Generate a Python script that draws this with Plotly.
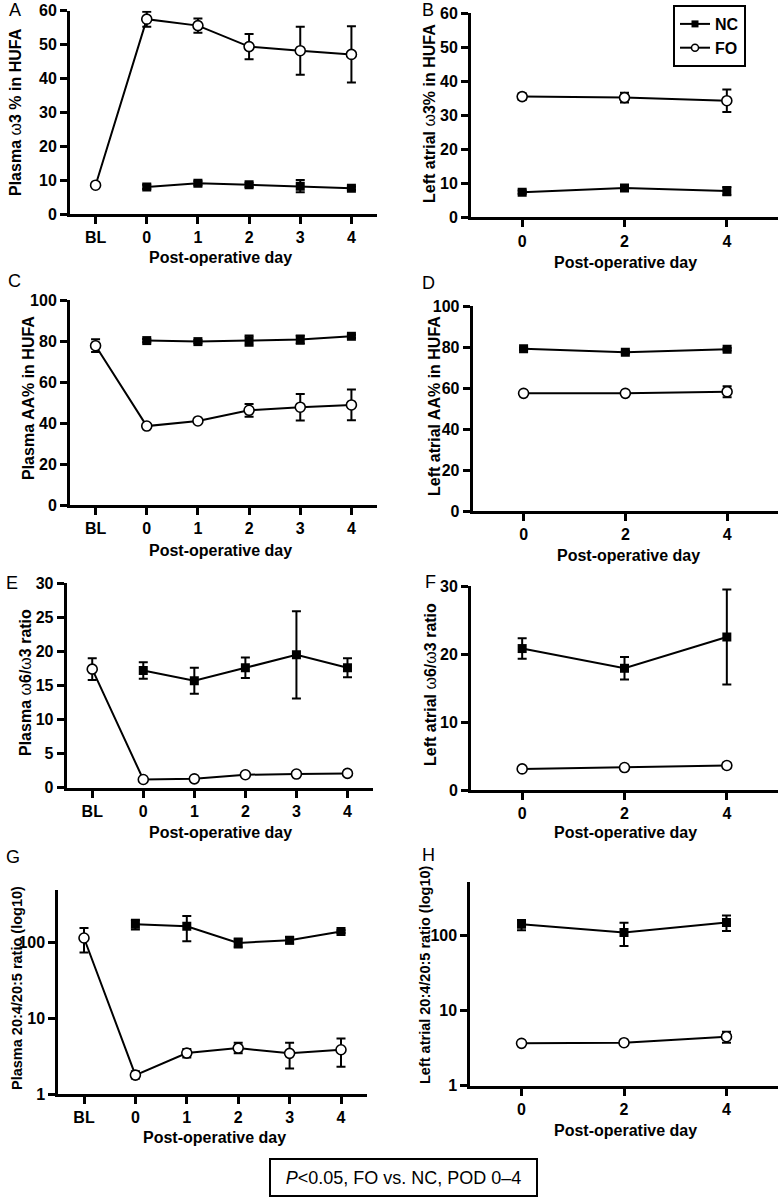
import plotly.graph_objects as go

W, H = 782, 1199
FONT = "Liberation Sans, Arial, sans-serif"

# ---------------- data ----------------
days_plasma = ["BL", "0", "1", "2", "3", "4"]
days_atrial = ["0", "2", "4"]

# A: Plasma w3 % in HUFA
a_fo = [8.5, 57.5, 55.6, 49.4, 48.2, 47.1]
a_fo_err = [0.5, 2.2, 2.1, 3.7, 7.1, 8.3]
a_nc = [8.0, 9.1, 8.6, 8.2, 7.6]
a_nc_err = [0.6, 0.6, 0.6, 1.8, 0.5]

# B: Left atrial w3 % in HUFA
b_fo = [35.5, 35.2, 34.3]
b_fo_err = [0.9, 1.4, 3.3]
b_nc = [7.4, 8.6, 7.7]
b_nc_err = [0.5, 0.7, 1.2]

# C: Plasma AA% in HUFA
c_fo = [77.7, 38.5, 41.0, 46.2, 47.7, 48.8]
c_fo_err = [3.1, 0.8, 0.9, 3.1, 6.5, 7.5]
c_nc = [80.2, 79.7, 80.2, 80.7, 82.3]
c_nc_err = [0.8, 0.8, 2.5, 2.0, 0.8]

# D: Left atrial AA% in HUFA
d_fo = [57.4, 57.4, 58.2]
d_fo_err = [0.6, 0.6, 2.7]
d_nc = [79.2, 77.4, 78.9]
d_nc_err = [0.6, 0.6, 0.6]

# E: Plasma w6/w3 ratio
e_fo = [17.4, 1.2, 1.3, 1.9, 2.0, 2.1]
e_fo_err = [1.6, 0.2, 0.2, 0.2, 0.2, 0.4]
e_nc = [17.2, 15.7, 17.6, 19.5, 17.6]
e_nc_err = [1.2, 1.9, 1.5, 6.4, 1.4]

# F: Left atrial w6/w3 ratio
f_fo = [3.1, 3.3, 3.6]
f_fo_err = [0.2, 0.2, 0.4]
f_nc = [20.8, 17.9, 22.5]
f_nc_err = [1.5, 1.65, 7.0]

# G: Plasma 20:4/20:5 ratio (log10)
g_fo = [116, 1.78, 3.48, 4.05, 3.45, 3.85]
g_fo_up = [42, 0.22, 0.45, 0.72, 1.32, 1.59]
g_fo_dn = [41.5, 0.18, 0.43, 0.6, 1.27, 1.55]
g_nc = [176, 166, 100, 108, 141]
g_nc_up = [27, 61, 14, 12, 6]
g_nc_dn = [26, 61, 13, 10, 6]

# H: Left atrial 20:4/20:5 ratio (log10)
h_fo = [3.65, 3.72, 4.47]
h_fo_up = [0.15, 0.15, 0.73]
h_fo_dn = [0.15, 0.15, 0.75]
h_nc = [139, 108, 147]
h_nc_up = [19, 38, 35]
h_nc_dn = [23, 36.6, 34]

# ---------------- layout helpers ----------------
def px_x(v):
    return v / W

def px_y(v):
    return 1 - v / H

fig = go.Figure()

panels = [
    dict(x=(70, 377), y=(10.7, 214), plasma=True, yr=[0, 60], ytv=[0, 10, 20, 30, 40, 50, 60]),
    dict(x=(471, 778), y=(13.3, 217.3), plasma=False, yr=[0, 60], ytv=[0, 10, 20, 30, 40, 50, 60]),
    dict(x=(70, 377), y=(300, 505), plasma=True, yr=[0, 100], ytv=[0, 20, 40, 60, 80, 100]),
    dict(x=(472.7, 778), y=(306, 511), plasma=False, yr=[0, 100], ytv=[0, 20, 40, 60, 80, 100]),
    dict(x=(66.7, 373), y=(583.3, 787.7), plasma=True, yr=[0, 30], ytv=[0, 5, 10, 15, 20, 25, 30]),
    dict(x=(471, 778), y=(586, 790), plasma=False, yr=[0, 30], ytv=[0, 10, 20, 30]),
    dict(x=(58.3, 366.7), y=(890, 1094), plasma=True, yr=[0, 2.7], ytv=[1, 10, 100], log=True),
    dict(x=(470.3, 777.7), y=(882.3, 1085.7), plasma=False, yr=[0, 2.7], ytv=[1, 10, 100], log=True),
]

series = [
    (a_nc, a_nc_err, None, a_fo, a_fo_err, None),
    (b_nc, b_nc_err, None, b_fo, b_fo_err, None),
    (c_nc, c_nc_err, None, c_fo, c_fo_err, None),
    (d_nc, d_nc_err, None, d_fo, d_fo_err, None),
    (e_nc, e_nc_err, None, e_fo, e_fo_err, None),
    (f_nc, f_nc_err, None, f_fo, f_fo_err, None),
    (g_nc, g_nc_up, g_nc_dn, g_fo, g_fo_up, g_fo_dn),
    (h_nc, h_nc_up, h_nc_dn, h_fo, h_fo_up, h_fo_dn),
]

axis_common = dict(showline=True, linecolor="black", linewidth=3, ticks="outside",
                   ticklen=7, tickwidth=2.5, tickcolor="black", showgrid=False,
                   zeroline=False, automargin=False,
                   tickfont=dict(family=FONT, size=16, color="black", weight="bold"),
                   mirror=False)

layout_axes = {}
for i, (p, s) in enumerate(zip(panels, series)):
    n = i + 1
    xa = f"x{n}" if n > 1 else "x"
    ya = f"y{n}" if n > 1 else "y"
    xk = f"xaxis{n}" if n > 1 else "xaxis"
    yk = f"yaxis{n}" if n > 1 else "yaxis"
    if p["plasma"]:
        labels = days_plasma
        xpos_fo = list(range(len(days_plasma)))
        xpos_nc = xpos_fo[1:]
        xr = [-0.5, 5.5]
    else:
        labels = days_atrial
        xpos_fo = [int(d) for d in days_atrial]
        xpos_nc = xpos_fo
        xr = [-1, 5]
    tickvals_x = xpos_fo

    nc, nc_up, nc_dn, fo, fo_up, fo_dn = s

    def err(up, dn):
        e = dict(type="data", array=up, color="black", thickness=2, width=4.5, visible=True)
        if dn is not None:
            e["symmetric"] = False
            e["arrayminus"] = dn
        return e

    fig.add_trace(go.Scatter(
        x=xpos_nc, y=nc, mode="lines+markers", xaxis=xa, yaxis=ya,
        line=dict(color="black", width=2),
        marker=dict(symbol="square", size=9, color="black"),
        error_y=err(nc_up, nc_dn), showlegend=False, name="NC", hoverinfo="skip"))
    fig.add_trace(go.Scatter(
        x=xpos_fo, y=fo, mode="lines+markers", xaxis=xa, yaxis=ya,
        line=dict(color="black", width=2),
        marker=dict(symbol="circle", size=10, color="white", line=dict(color="black", width=1.6)),
        error_y=err(fo_up, fo_dn), showlegend=False, name="FO", hoverinfo="skip"))

    xd = [px_x(p["x"][0]), px_x(p["x"][1])]
    yd = [px_y(p["y"][1]), px_y(p["y"][0])]
    layout_axes[xk] = dict(axis_common, domain=xd, anchor=ya, range=xr,
                           tickmode="array", tickvals=tickvals_x, ticktext=labels)
    ydict = dict(axis_common, domain=yd, anchor=xa, tickmode="array", tickvals=p["ytv"],
                 ticktext=[str(v) for v in p["ytv"]], range=p["yr"])
    if p.get("log"):
        ydict["type"] = "log"
    layout_axes[yk] = ydict

# legend-only traces
fig.add_trace(go.Scatter(x=[None], y=[None], mode="lines+markers", name="NC",
                         legendgroup="nc",
                         line=dict(color="black", width=2),
                         marker=dict(symbol="square", size=7, color="black")))
fig.add_trace(go.Scatter(x=[None], y=[None], mode="lines+markers", name="FO",
                         legendgroup="fo",
                         line=dict(color="black", width=2),
                         marker=dict(symbol="circle", size=7, color="white",
                                     line=dict(color="black", width=1.5))))

annotations = []

def ann(text, x, y, size, angle=0):
    annotations.append(dict(text=text, x=px_x(x), y=px_y(y), xref="paper", yref="paper",
                            showarrow=False, textangle=angle, xanchor="center", yanchor="middle",
                            font=dict(family=FONT, size=size, color="black")))

# panel letters
for letter, (lx, ly) in zip("ABCDEFGH", [(15, 10), (428, 10), (14, 281), (428, 283),
                                        (12, 583), (430, 582), (13, 857), (428, 855)]):
    ann(letter, lx, ly, 18)

# y axis titles
ytitles = [
    ("<b>Plasma </b>ω<b>3 % in HUFA</b>", 16, 112, 16),
    ("<b>Left atrial </b>ω<b>3% in HUFA</b>", 429, 113, 16),
    ("<b>Plasma AA% in HUFA</b>", 29, 398, 16),
    ("<b>Left atrial AA% in HUFA</b>", 434, 406, 16),
    ("<b>Plasma </b>ω<b>6/</b>ω<b>3 ratio</b>", 25, 683, 16),
    ("<b>Left atrial </b>ω<b>6/</b>ω<b>3 ratio</b>", 430, 685, 16),
    ("<b>Plasma 20:4/20:5 ratio (log10)</b>", 17, 988, 14.5),
    ("<b>Left atrial 20:4/20:5 ratio (log10)</b>", 425, 975, 14.5),
]
for t, x, y, s in ytitles:
    ann(t, x, y, s, angle=-90)

# x axis titles
for x, y in [(221, 258), (625, 262), (221, 550), (628, 555), (221, 832), (625, 832),
             (214, 1137), (625, 1130)]:
    ann("<b>Post-operative day</b>", x, y, 16)

# bottom box
annotations.append(dict(text="<i>P</i>&lt;0.05, FO vs. NC, POD 0–4", x=px_x(403.5), y=px_y(1177.5),
                        xref="paper", yref="paper", showarrow=False, xanchor="center",
                        yanchor="middle", width=265, height=35, borderpad=0,
                        bordercolor="black", borderwidth=2, bgcolor="white",
                        font=dict(family=FONT, size=18, color="black")))

fig.update_layout(
    width=W, height=H,
    margin=dict(l=0, r=0, t=0, b=0, autoexpand=False),
    paper_bgcolor="white", plot_bgcolor="white",
    showlegend=True,
    hovermode=False,
    legend=dict(x=px_x(673), y=px_y(5), xanchor="left", yanchor="top",
                bordercolor="black", borderwidth=2, bgcolor="white",
                font=dict(family=FONT, size=16, color="black", weight="bold"),
                itemwidth=30, tracegroupgap=0),
    annotations=annotations,
    **layout_axes,
)

fig.write_html("out.html", config={"displayModeBar": False},
               post_script="document.body.style.margin='0';")
